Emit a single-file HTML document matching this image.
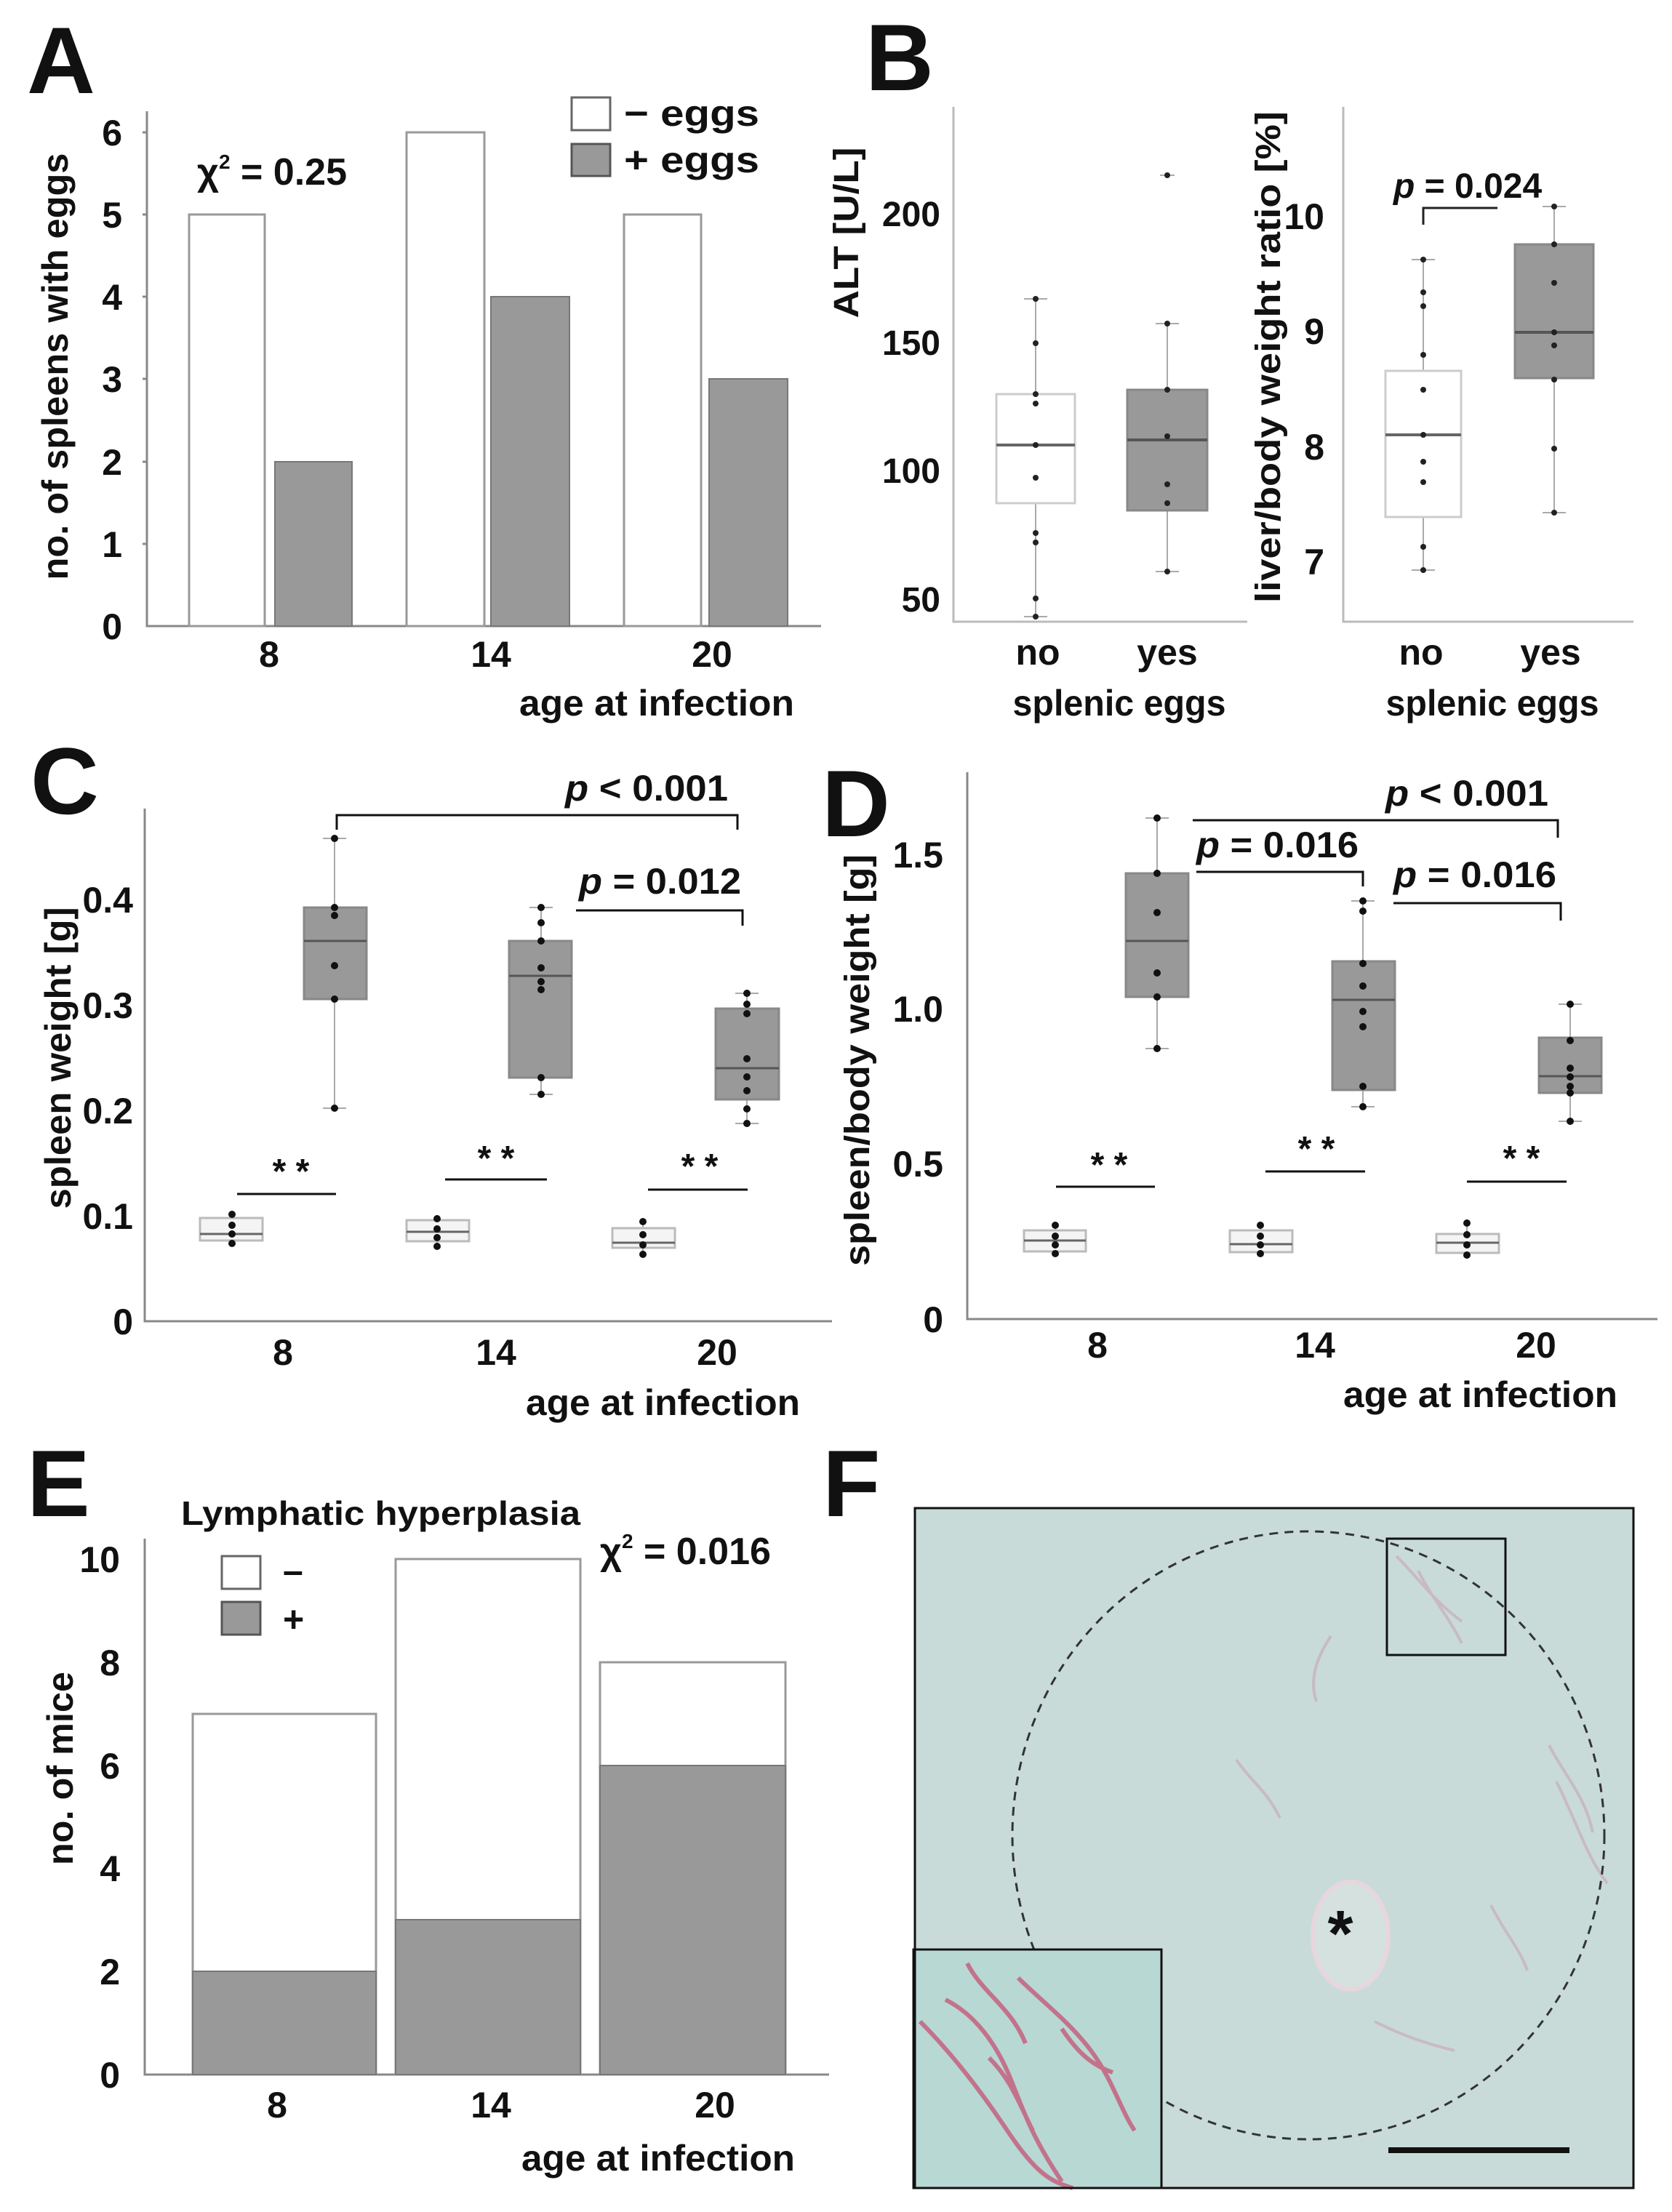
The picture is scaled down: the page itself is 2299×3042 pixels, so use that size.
<!DOCTYPE html>
<html><head><meta charset="utf-8"><style>
html,body{margin:0;padding:0;background:#fff}
svg{display:block}
text{font-family:"Liberation Sans",Arial,sans-serif;font-weight:bold;fill:#111}
</style></head><body>
<svg width="2299" height="3042" viewBox="0 0 2299 3042" xmlns="http://www.w3.org/2000/svg">
<rect width="2299" height="3042" fill="#fff"/>
<g font-size="130"><text x="37" y="128">A</text><text x="1190" y="124">B</text><text x="42" y="1119">C</text><text x="1130" y="1150">D</text><text x="37" y="2085">E</text><text x="1131" y="2085">F</text></g>

<!-- ===== A ===== -->
<g stroke="#888" stroke-width="3" fill="none"><path d="M202 153V861H1129"/>
<path d="M196 182H202M196 295H202M196 408H202M196 521H202M196 635H202M196 748H202"/></g>
<g font-size="50" text-anchor="end"><text x="168" y="879">0</text><text x="168" y="766">1</text><text x="168" y="653">2</text><text x="168" y="539">3</text><text x="168" y="426">4</text><text x="168" y="313">5</text><text x="168" y="200">6</text></g>
<g stroke="#999" stroke-width="3"><rect x="260" y="295" width="104" height="566" fill="#fff"/><rect x="559" y="182" width="107" height="679" fill="#fff"/><rect x="858" y="295" width="106" height="566" fill="#fff"/></g>
<g stroke="#777" stroke-width="2" fill="#999"><rect x="378" y="635" width="106" height="226"/><rect x="675" y="408" width="108" height="453"/><rect x="975" y="521" width="108" height="340"/></g>
<g font-size="50" text-anchor="middle"><text x="370" y="917">8</text><text x="675" y="917">14</text><text x="979" y="917">20</text></g>
<text x="714" y="984" font-size="50" textLength="378" lengthAdjust="spacingAndGlyphs">age at infection</text>
<text transform="translate(93,504) rotate(-90)" font-size="50" text-anchor="middle" textLength="587" lengthAdjust="spacingAndGlyphs">no. of spleens with eggs</text>
<text x="271" y="254" font-size="52">χ<tspan font-size="28" dy="-22">2</tspan><tspan dy="22"> = 0.25</tspan></text>
<rect x="786" y="134" width="53" height="45" fill="#fff" stroke="#666" stroke-width="3"/>
<rect x="786" y="198" width="53" height="44" fill="#999" stroke="#555" stroke-width="3"/>
<text x="858" y="173" font-size="50" textLength="186" lengthAdjust="spacingAndGlyphs">− eggs</text>
<text x="858" y="237" font-size="50" textLength="186" lengthAdjust="spacingAndGlyphs">+ eggs</text>

<!-- ===== B ALT ===== -->
<g stroke="#bbb" stroke-width="3" fill="none"><path d="M1311 147V855H1715"/></g>
<g font-size="48" text-anchor="end"><text x="1293" y="311">200</text><text x="1293" y="488">150</text><text x="1293" y="664">100</text><text x="1293" y="841">50</text></g>
<text transform="translate(1180,320) rotate(-90)" font-size="48" text-anchor="middle" textLength="235" lengthAdjust="spacingAndGlyphs">ALT [U/L]</text>
<g stroke="#aaa" stroke-width="2"><path d="M1424 411V542M1424 692V848M1408 411H1440M1408 848H1440M1605 445V536M1605 702V786M1589 445H1621M1589 786H1621M1595 241H1615"/></g>
<rect x="1370" y="542" width="108" height="150" fill="#fff" stroke="#ccc" stroke-width="3"/>
<line x1="1370" y1="612" x2="1478" y2="612" stroke="#666" stroke-width="4"/>
<rect x="1550" y="536" width="110" height="166" fill="#999" stroke="#888" stroke-width="3"/>
<line x1="1550" y1="605" x2="1660" y2="605" stroke="#555" stroke-width="4"/>
<g fill="#222"><circle cx="1424" cy="411" r="4"/><circle cx="1424" cy="472" r="4"/><circle cx="1424" cy="542" r="4"/><circle cx="1424" cy="555" r="4"/><circle cx="1424" cy="612" r="4"/><circle cx="1424" cy="657" r="4"/><circle cx="1424" cy="733" r="4"/><circle cx="1424" cy="746" r="4"/><circle cx="1424" cy="823" r="4"/><circle cx="1424" cy="848" r="4"/>
<circle cx="1605" cy="241" r="4"/><circle cx="1605" cy="445" r="4"/><circle cx="1605" cy="536" r="4"/><circle cx="1605" cy="600" r="4"/><circle cx="1605" cy="666" r="4"/><circle cx="1605" cy="692" r="4"/><circle cx="1605" cy="786" r="4"/></g>
<g font-size="50" text-anchor="middle"><text x="1427" y="914">no</text><text x="1605" y="914">yes</text></g>
<text x="1539" y="984" font-size="50" text-anchor="middle" textLength="293" lengthAdjust="spacingAndGlyphs">splenic eggs</text>

<!-- ===== B liver ===== -->
<g stroke="#bbb" stroke-width="3" fill="none"><path d="M1847 147V855H2246"/></g>
<g font-size="50" text-anchor="end"><text x="1821" y="315">10</text><text x="1821" y="473">9</text><text x="1821" y="632">8</text><text x="1821" y="790">7</text></g>
<text transform="translate(1760,491) rotate(-90)" font-size="48" text-anchor="middle" textLength="676" lengthAdjust="spacingAndGlyphs">liver/body weight ratio  [%]</text>
<g stroke="#aaa" stroke-width="2"><path d="M1957 357V510M1957 711V784M1941 357H1973M1941 784H1973M2137 284V336M2137 520V705M2121 284H2153M2121 705H2153"/></g>
<rect x="1905" y="510" width="104" height="201" fill="#fff" stroke="#ccc" stroke-width="3"/>
<line x1="1905" y1="598" x2="2009" y2="598" stroke="#666" stroke-width="4"/>
<rect x="2083" y="336" width="108" height="184" fill="#999" stroke="#888" stroke-width="3"/>
<line x1="2083" y1="457" x2="2191" y2="457" stroke="#555" stroke-width="4"/>
<g fill="#222"><circle cx="1957" cy="357" r="4"/><circle cx="1957" cy="402" r="4"/><circle cx="1957" cy="421" r="4"/><circle cx="1957" cy="488" r="4"/><circle cx="1957" cy="536" r="4"/><circle cx="1957" cy="598" r="4"/><circle cx="1957" cy="635" r="4"/><circle cx="1957" cy="663" r="4"/><circle cx="1957" cy="752" r="4"/><circle cx="1957" cy="784" r="4"/>
<circle cx="2137" cy="284" r="4"/><circle cx="2137" cy="336" r="4"/><circle cx="2137" cy="389" r="4"/><circle cx="2137" cy="457" r="4"/><circle cx="2137" cy="475" r="4"/><circle cx="2137" cy="522" r="4"/><circle cx="2137" cy="617" r="4"/><circle cx="2137" cy="705" r="4"/></g>
<path d="M1957 309V286H2059" stroke="#222" stroke-width="3" fill="none"/>
<text x="1916" y="272" font-size="48"><tspan font-style="italic">p</tspan> = 0.024</text>
<g font-size="50" text-anchor="middle"><text x="1954" y="914">no</text><text x="2132" y="914">yes</text></g>
<text x="2052" y="984" font-size="50" text-anchor="middle" textLength="293" lengthAdjust="spacingAndGlyphs">splenic eggs</text>

<!-- ===== C ===== -->
<g stroke="#888" stroke-width="3" fill="none"><path d="M199 1112V1817H1144"/></g>
<g font-size="50" text-anchor="end"><text x="183" y="1835">0</text><text x="183" y="1690">0.1</text><text x="183" y="1545">0.2</text><text x="183" y="1400">0.3</text><text x="183" y="1255">0.4</text></g>
<text transform="translate(97,1455) rotate(-90)" font-size="50" text-anchor="middle" textLength="415" lengthAdjust="spacingAndGlyphs">spleen weight [g]</text>
<g stroke="#aaa" stroke-width="2"><path d="M460 1153V1248M460 1374V1524M444 1153H476M444 1524H476M744 1248V1294M744 1482V1505M728 1248H760M728 1505H760M1027 1366V1387M1027 1512V1545M1011 1366H1043M1011 1545H1043
M319 1667V1712M601 1672V1716M884 1676V1727"/></g>
<g fill="#999" stroke="#888" stroke-width="3"><rect x="418" y="1248" width="86" height="126"/><rect x="700" y="1294" width="86" height="188"/><rect x="984" y="1387" width="87" height="125"/></g>
<g stroke="#555" stroke-width="3"><path d="M418 1294H504M700 1342H786M984 1469H1071"/></g>
<g fill="#f4f4f4" stroke="#bbb" stroke-width="3"><rect x="275" y="1675" width="86" height="31"/><rect x="559" y="1678" width="86" height="29"/><rect x="842" y="1689" width="86" height="27"/></g>
<g stroke="#666" stroke-width="3"><path d="M275 1697H361M559 1694H645M842 1709H928"/></g>
<g fill="#111"><circle cx="460" cy="1153" r="5"/><circle cx="460" cy="1248" r="5"/><circle cx="460" cy="1259" r="5"/><circle cx="460" cy="1328" r="5"/><circle cx="460" cy="1374" r="5"/><circle cx="460" cy="1524" r="5"/>
<circle cx="744" cy="1248" r="5"/><circle cx="744" cy="1269" r="5"/><circle cx="744" cy="1294" r="5"/><circle cx="744" cy="1331" r="5"/><circle cx="744" cy="1350" r="5"/><circle cx="744" cy="1361" r="5"/><circle cx="744" cy="1482" r="5"/><circle cx="744" cy="1505" r="5"/>
<circle cx="1027" cy="1366" r="5"/><circle cx="1027" cy="1381" r="5"/><circle cx="1027" cy="1394" r="5"/><circle cx="1027" cy="1456" r="5"/><circle cx="1027" cy="1481" r="5"/><circle cx="1027" cy="1500" r="5"/><circle cx="1027" cy="1525" r="5"/><circle cx="1027" cy="1545" r="5"/>
<circle cx="319" cy="1670" r="5"/><circle cx="319" cy="1685" r="5"/><circle cx="319" cy="1697" r="5"/><circle cx="319" cy="1710" r="5"/>
<circle cx="601" cy="1676" r="5"/><circle cx="601" cy="1690" r="5"/><circle cx="601" cy="1702" r="5"/><circle cx="601" cy="1714" r="5"/>
<circle cx="884" cy="1680" r="5"/><circle cx="884" cy="1698" r="5"/><circle cx="884" cy="1712" r="5"/><circle cx="884" cy="1725" r="5"/></g>
<g stroke="#111" stroke-width="3" fill="none"><path d="M326 1642H462M612 1622H752M891 1636H1028"/><path d="M463 1141V1121H1014V1141"/><path d="M792 1252H1021V1273"/></g>
<g font-size="48" text-anchor="middle"><text x="400" y="1627">* *</text><text x="682" y="1609">* *</text><text x="962" y="1620">* *</text></g>
<text x="777" y="1101" font-size="50" textLength="224" lengthAdjust="spacingAndGlyphs"><tspan font-style="italic">p</tspan> &lt; 0.001</text>
<text x="796" y="1229" font-size="50" textLength="223" lengthAdjust="spacingAndGlyphs"><tspan font-style="italic">p</tspan> = 0.012</text>
<g font-size="50" text-anchor="middle"><text x="389" y="1877">8</text><text x="682" y="1877">14</text><text x="986" y="1877">20</text></g>
<text x="723" y="1946" font-size="50" textLength="377" lengthAdjust="spacingAndGlyphs">age at infection</text>

<!-- ===== D ===== -->
<g stroke="#888" stroke-width="3" fill="none"><path d="M1330 1062V1814H2279"/></g>
<g font-size="50" text-anchor="end"><text x="1297" y="1832">0</text><text x="1297" y="1618">0.5</text><text x="1297" y="1405">1.0</text><text x="1297" y="1193">1.5</text></g>
<text transform="translate(1195,1458) rotate(-90)" font-size="48" text-anchor="middle" textLength="566" lengthAdjust="spacingAndGlyphs">spleen/body weight [g]</text>
<g stroke="#aaa" stroke-width="2"><path d="M1591 1125V1201M1591 1371V1442M1575 1125H1607M1575 1442H1607M1874 1239V1322M1874 1499V1522M1858 1239H1890M1858 1522H1890M2159 1381V1427M2159 1503V1542M2143 1381H2175M2143 1542H2175
M1451 1682V1726M1733 1682V1726M2017 1678V1728"/></g>
<g fill="#999" stroke="#888" stroke-width="3"><rect x="1548" y="1201" width="86" height="170"/><rect x="1832" y="1322" width="86" height="177"/><rect x="2116" y="1427" width="86" height="76"/></g>
<g stroke="#555" stroke-width="3"><path d="M1548 1294H1634M1832 1375H1918M2116 1480H2202"/></g>
<g fill="#f4f4f4" stroke="#bbb" stroke-width="3"><rect x="1408" y="1692" width="85" height="29"/><rect x="1691" y="1692" width="86" height="30"/><rect x="1975" y="1697" width="86" height="26"/></g>
<g stroke="#666" stroke-width="3"><path d="M1408 1706H1493M1691 1711H1777M1975 1709H2061"/></g>
<g fill="#111"><circle cx="1591" cy="1125" r="5"/><circle cx="1591" cy="1201" r="5"/><circle cx="1591" cy="1255" r="5"/><circle cx="1591" cy="1338" r="5"/><circle cx="1591" cy="1371" r="5"/><circle cx="1591" cy="1442" r="5"/>
<circle cx="1874" cy="1239" r="5"/><circle cx="1874" cy="1253" r="5"/><circle cx="1874" cy="1325" r="5"/><circle cx="1874" cy="1356" r="5"/><circle cx="1874" cy="1391" r="5"/><circle cx="1874" cy="1412" r="5"/><circle cx="1874" cy="1494" r="5"/><circle cx="1874" cy="1522" r="5"/>
<circle cx="2159" cy="1381" r="5"/><circle cx="2159" cy="1431" r="5"/><circle cx="2159" cy="1469" r="5"/><circle cx="2159" cy="1481" r="5"/><circle cx="2159" cy="1494" r="5"/><circle cx="2159" cy="1503" r="5"/><circle cx="2159" cy="1542" r="5"/>
<circle cx="1451" cy="1685" r="5"/><circle cx="1451" cy="1700" r="5"/><circle cx="1451" cy="1712" r="5"/><circle cx="1451" cy="1724" r="5"/>
<circle cx="1733" cy="1685" r="5"/><circle cx="1733" cy="1700" r="5"/><circle cx="1733" cy="1712" r="5"/><circle cx="1733" cy="1724" r="5"/>
<circle cx="2017" cy="1682" r="5"/><circle cx="2017" cy="1698" r="5"/><circle cx="2017" cy="1712" r="5"/><circle cx="2017" cy="1726" r="5"/></g>
<g stroke="#111" stroke-width="3" fill="none"><path d="M1452 1632H1588M1740 1611H1877M2017 1625H2154"/><path d="M1640 1128H2142V1152"/><path d="M1645 1199H1874V1219"/><path d="M1916 1242H2146V1266"/></g>
<g font-size="48" text-anchor="middle"><text x="1525" y="1618">* *</text><text x="1810" y="1596">* *</text><text x="2092" y="1609">* *</text></g>
<text x="1905" y="1108" font-size="50" textLength="224" lengthAdjust="spacingAndGlyphs"><tspan font-style="italic">p</tspan> &lt; 0.001</text>
<text x="1645" y="1179" font-size="50" textLength="223" lengthAdjust="spacingAndGlyphs"><tspan font-style="italic">p</tspan> = 0.016</text>
<text x="1916" y="1220" font-size="50" textLength="224" lengthAdjust="spacingAndGlyphs"><tspan font-style="italic">p</tspan> = 0.016</text>
<g font-size="50" text-anchor="middle"><text x="1509" y="1867">8</text><text x="1808" y="1867">14</text><text x="2112" y="1867">20</text></g>
<text x="1847" y="1935" font-size="50" textLength="377" lengthAdjust="spacingAndGlyphs">age at infection</text>

<!-- ===== E ===== -->
<g stroke="#888" stroke-width="3" fill="none"><path d="M199 2116V2853H1140"/></g>
<g font-size="50" text-anchor="end"><text x="165" y="2871">0</text><text x="165" y="2729">2</text><text x="165" y="2587">4</text><text x="165" y="2446">6</text><text x="165" y="2304">8</text><text x="165" y="2162">10</text></g>
<text transform="translate(100,2432) rotate(-90)" font-size="50" text-anchor="middle" textLength="266" lengthAdjust="spacingAndGlyphs">no. of mice</text>
<g stroke="#999" stroke-width="3" fill="#fff"><rect x="265" y="2357" width="252" height="496"/><rect x="544" y="2144" width="254" height="709"/><rect x="825" y="2286" width="255" height="567"/></g>
<g stroke="#777" stroke-width="2" fill="#999"><rect x="265" y="2711" width="252" height="142"/><rect x="544" y="2640" width="254" height="213"/><rect x="825" y="2428" width="255" height="425"/></g>
<text x="249" y="2097" font-size="46" textLength="549" lengthAdjust="spacingAndGlyphs">Lymphatic hyperplasia</text>
<text x="825" y="2151" font-size="52">χ<tspan font-size="28" dy="-22">2</tspan><tspan dy="22"> = 0.016</tspan></text>
<rect x="305" y="2140" width="53" height="45" fill="#fff" stroke="#666" stroke-width="3"/>
<rect x="305" y="2203" width="53" height="45" fill="#999" stroke="#555" stroke-width="3"/>
<text x="389" y="2177" font-size="50">–</text><text x="389" y="2244" font-size="50">+</text>
<g font-size="50" text-anchor="middle"><text x="381" y="2912">8</text><text x="675" y="2912">14</text><text x="983" y="2912">20</text></g>
<text x="717" y="2985" font-size="50" textLength="376" lengthAdjust="spacingAndGlyphs">age at infection</text>

<!-- ===== F ===== -->
<rect x="1258" y="2074" width="988" height="935" fill="#c8dbd9"/>
<g fill="none" stroke="#c9a0ac" stroke-width="4" opacity="0.55">
<path d="M1920 2140c30 30 50 60 90 90M1950 2160c20 40 40 60 60 100M2130 2400c20 40 50 70 60 120M2140 2450c30 60 40 100 70 140M1830 2250c-20 30-30 60-20 90M1700 2420c20 30 40 40 60 80M1890 2780c40 20 70 30 110 40M2050 2620c20 40 40 60 50 90"/>
</g>
<ellipse cx="1799" cy="2524" rx="407" ry="418" fill="none" stroke="#333" stroke-width="3" stroke-dasharray="12,9"/>
<ellipse cx="1857" cy="2662" rx="52" ry="74" fill="#d4e1df" stroke="#e8d6dc" stroke-width="6"/>
<text x="1843" y="2690" font-size="90" text-anchor="middle">*</text>
<rect x="1907" y="2116" width="163" height="160" fill="none" stroke="#111" stroke-width="3"/>
<rect x="1256" y="2681" width="341" height="328" fill="#b8d8d4" stroke="#111" stroke-width="3"/>
<g fill="none" stroke="#c45a78" stroke-width="6" opacity="0.8">
<path d="M1265 2780c40 40 80 90 120 150s60 70 90 79M1300 2750c40 20 70 60 90 110s30 80 70 140M1330 2700c20 40 60 60 80 110M1400 2720c30 30 70 60 100 100s40 80 60 110M1460 2790c20 30 40 50 70 60M1360 2830c30 30 40 60 60 100"/>
</g>
<rect x="1258" y="2074" width="988" height="935" fill="none" stroke="#111" stroke-width="3"/>
<rect x="1909" y="2953" width="249" height="8" fill="#111"/>
</svg>
</body></html>
